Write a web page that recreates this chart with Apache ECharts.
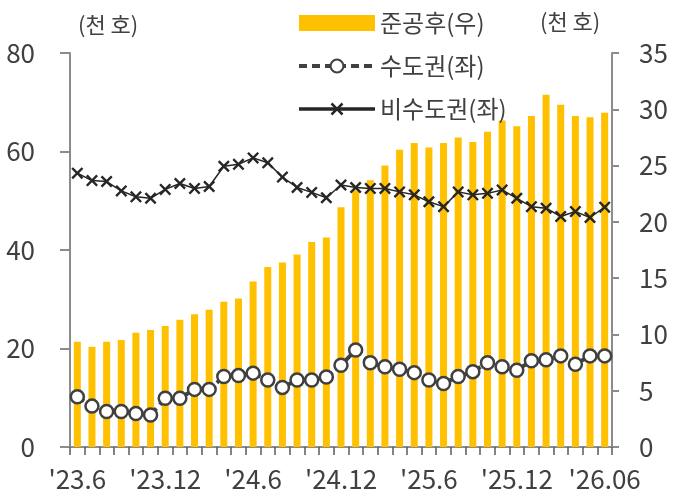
<!DOCTYPE html>
<html>
<head>
<meta charset="utf-8">
<script src="https://cdn.jsdelivr.net/npm/echarts@6/dist/echarts.min.js"></script>
<style>
  html, body { margin: 0; padding: 0; background: #fff; }
  #chart { width: 676px; height: 500px; }
</style>
</head>
<body>
<div id="chart"></div>
<script>
// 월별 (천 호)
const months = [
  "'23.6", "'23.7", "'23.8", "'23.9", "'23.10", "'23.11", "'23.12",
  "'24.1", "'24.2", "'24.3", "'24.4", "'24.5", "'24.6", "'24.7", "'24.8", "'24.9", "'24.10", "'24.11", "'24.12",
  "'25.1", "'25.2", "'25.3", "'25.4", "'25.5", "'25.6", "'25.7", "'25.8", "'25.9", "'25.10", "'25.11", "'25.12",
  "'26.1", "'26.2", "'26.3", "'26.4", "'26.5", "'26.06"
];

// 준공후 미분양 (우축)
const completed = [
  9.35, 8.9, 9.35, 9.5, 10.15, 10.4, 10.75,
  11.3, 11.8, 12.2, 12.9, 13.2, 14.7, 16.0, 16.4, 17.1, 18.2, 18.6, 21.3,
  22.8, 23.7, 25.0, 26.4, 27.0, 26.6, 27.0, 27.5, 27.1, 28.0, 29.0, 28.5,
  29.4, 31.3, 30.4, 29.4, 29.3, 29.7
];

// 수도권 (좌축)
const capital = [
  10.2, 8.3, 7.2, 7.2, 6.8, 6.5, 9.9,
  9.9, 11.7, 11.7, 14.3, 14.5, 15.0, 13.6, 12.1, 13.6, 13.6, 14.2, 16.6,
  19.7, 17.1, 16.3, 15.8, 15.1, 13.6, 12.9, 14.3, 15.3, 17.1, 16.3, 15.6,
  17.5, 17.7, 18.5, 16.8, 18.5, 18.5
];

// 비수도권 (좌축)
const nonCapital = [
  55.6, 54.1, 53.9, 52.0, 50.8, 50.5, 52.3,
  53.5, 52.5, 52.9, 57.0, 57.4, 58.7, 57.7, 54.8, 52.7, 51.7, 50.6, 53.2,
  52.7, 52.5, 52.5, 51.8, 51.2, 49.8, 48.8, 51.8, 51.2, 51.5, 52.2, 50.5,
  48.8, 48.5, 46.8, 47.8, 46.6, 48.7
];

const FONT = 'Noto Sans CJK KR';
const TXT = '#404040';
const AXIS = '#8c8c8c';
const xMark = 'path://M1.4,0 L5,3.6 L8.6,0 L10,1.4 L6.4,5 L10,8.6 L8.6,10 L5,6.4 L1.4,10 L0,8.6 L3.6,5 L0,1.4 Z';

const chart = echarts.init(document.getElementById('chart'), null, { renderer: 'canvas' });

const option = {
  backgroundColor: '#fff',
  animation: false,
  textStyle: { fontFamily: FONT },
  grid: { left: 70, right: 64, top: 53, bottom: 53, containLabel: false },
  legend: {
    orient: 'vertical',
    left: 292,
    top: 6,
    itemWidth: 76,
    itemHeight: 16,
    itemGap: 19,
    textStyle: { fontFamily: FONT, fontSize: 24, color: TXT, lineHeight: 24 },
    data: [
      { name: '준공후(우)', icon: 'rect' },
      { name: '수도권(좌)', lineStyle: { width: 4 } },
      { name: '비수도권(좌)', lineStyle: { width: 3.5 } }
    ]
  },
  graphic: [
    { type: 'text', left: 78, top: 14, style: { text: '(천 호)', fontFamily: FONT, fontSize: 22, fill: TXT } },
    { type: 'text', left: 540, top: 11, style: { text: '(천 호)', fontFamily: FONT, fontSize: 22, fill: TXT } }
  ],
  xAxis: {
    type: 'category',
    data: months,
    boundaryGap: true,
    axisLine: { lineStyle: { color: AXIS, width: 2 } },
    axisTick: { show: true, interval: 0, length: 8, lineStyle: { color: '#595959', width: 1.5 } },
    axisLabel: { interval: 5, margin: 19, fontSize: 26, color: TXT, fontFamily: FONT },
    splitLine: { show: false }
  },
  yAxis: [
    {
      type: 'value',
      min: 0, max: 80, interval: 20,
      position: 'left',
      axisLine: { show: true, lineStyle: { color: AXIS, width: 2 } },
      axisTick: { show: true, length: 10, lineStyle: { color: AXIS, width: 2 } },
      axisLabel: { margin: 35, fontSize: 26, color: TXT, fontFamily: FONT },
      splitLine: { show: false }
    },
    {
      type: 'value',
      min: 0, max: 35, interval: 5,
      position: 'right',
      axisLine: { show: true, lineStyle: { color: AXIS, width: 2 } },
      axisTick: { show: true, length: 7, lineStyle: { color: AXIS, width: 2 } },
      axisLabel: { margin: 27, fontSize: 26, color: TXT, fontFamily: FONT },
      splitLine: { show: false }
    }
  ],
  series: [
    {
      name: '준공후(우)',
      type: 'bar',
      yAxisIndex: 1,
      data: completed,
      barWidth: 7,
      itemStyle: { color: '#FFC000' },
      z: 1
    },
    {
      name: '수도권(좌)',
      type: 'line',
      yAxisIndex: 0,
      data: capital,
      symbol: 'circle',
      symbolSize: 13,
      showAllSymbol: true,
      lineStyle: { color: '#404040', width: 4, type: [8, 5] },
      itemStyle: { color: '#fff', borderColor: '#404040', borderWidth: 2.5 },
      z: 3
    },
    {
      name: '비수도권(좌)',
      type: 'line',
      yAxisIndex: 0,
      data: nonCapital,
      symbol: xMark,
      symbolSize: 12,
      showAllSymbol: true,
      lineStyle: { color: '#262626', width: 1.5 },
      itemStyle: { color: '#262626' },
      z: 3
    }
  ]
};

chart.setOption(option);
</script>
</body>
</html>
